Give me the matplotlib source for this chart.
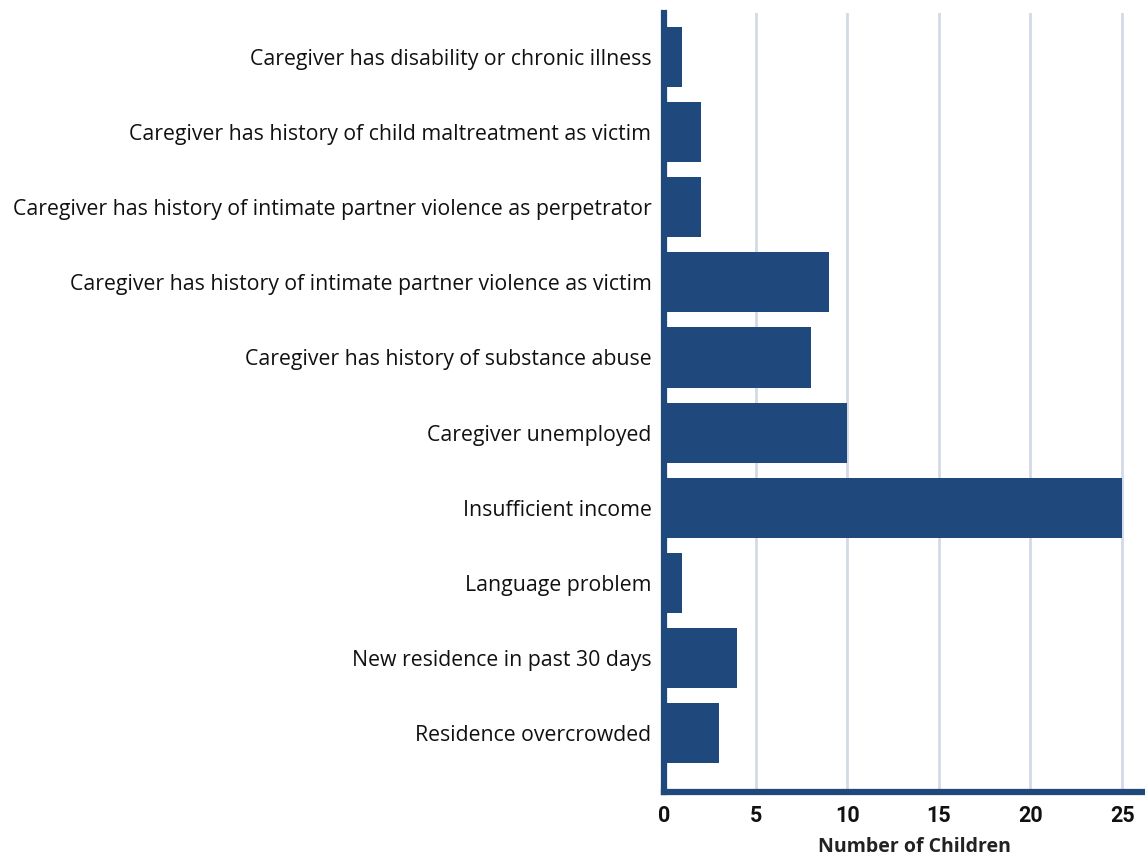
import matplotlib
matplotlib.use("Agg")
import matplotlib.pyplot as plt

categories = [
    "Caregiver has disability or chronic illness",
    "Caregiver has history of child maltreatment as victim",
    "Caregiver has history of intimate partner violence as perpetrator",
    "Caregiver has history of intimate partner violence as victim",
    "Caregiver has history of substance abuse",
    "Caregiver unemployed",
    "Insufficient income",
    "Language problem",
    "New residence in past 30 days",
    "Residence overcrowded",
]
values = [1, 2, 2, 9, 8, 10, 25, 1, 4, 3]
x_ticks = [0, 5, 10, 15, 20, 25]

bar_color = "#1f497d"
grid_color = "#d3dae6"

fig = plt.figure(figsize=(11.45, 8.57), dpi=100)
ax = fig.add_axes([0.5799, 0.0758, 0.4201, 0.909])

y = list(range(len(categories)))
ax.barh(y, values, height=0.8, color=bar_color, zorder=3)
ax.set_ylim(9.786, -0.586)
ax.set_xlim(0, 26.25)

ax.set_yticks(y)
ax.set_yticklabels(categories, fontsize=15.3, family="Open Sans", color="#111111")
ax.set_xticks(x_ticks)
ax.set_xticklabels([str(t) for t in x_ticks], fontsize=15.5, fontweight="bold",
                   family=["Roboto", "DejaVu Sans"], color="#111111")
ax.tick_params(axis="both", length=0)
ax.tick_params(axis="y", pad=9)
ax.tick_params(axis="x", pad=9)

ax.set_xlabel("Number of Children", fontsize=14, fontweight="bold",
              family=["Open Sans", "DejaVu Sans"], color="#222222", labelpad=8)
ax.xaxis.set_label_coords(0.52, -0.058)

for t in x_ticks[1:]:
    ax.axvline(t, color=grid_color, lw=2, zorder=1)

for s in ["top", "right"]:
    ax.spines[s].set_visible(False)
for s in ["left", "bottom"]:
    ax.spines[s].set_color(bar_color)
    ax.spines[s].set_linewidth(4.5)
    ax.spines[s].set_zorder(4)

fig.savefig("out.png", dpi=100)
